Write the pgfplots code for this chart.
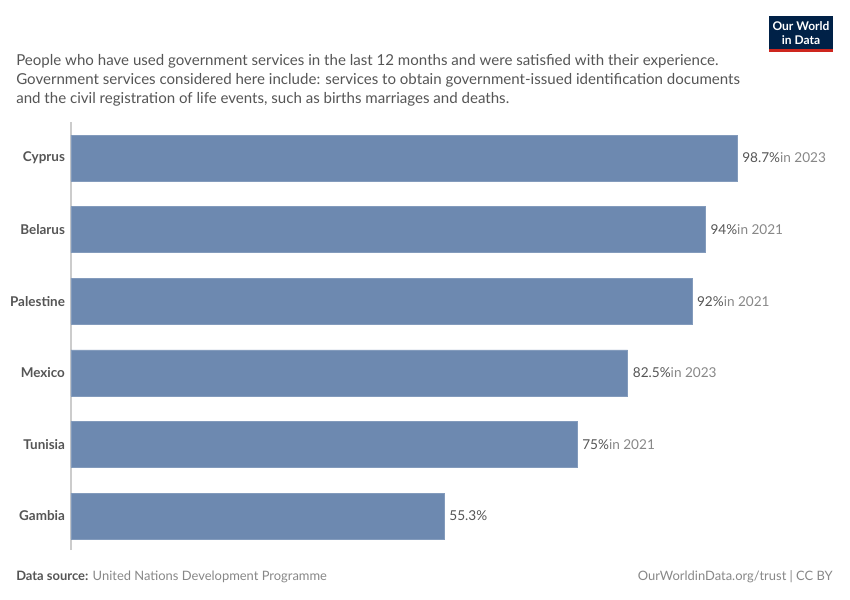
\documentclass[border=0pt]{standalone}
\usepackage{pgfplots}
\pgfplotsset{compat=1.18}
\usepackage{fontspec}
\setmainfont{Lato}
\definecolor{owid}{RGB}{109,137,176}
\definecolor{txt}{RGB}{85,85,85}
\definecolor{lgt}{RGB}{135,135,135}
\definecolor{navy}{RGB}{0,33,71}
\definecolor{owred}{RGB}{206,38,30}
\begin{document}
\begin{tikzpicture}[x=0.75pt,y=-0.75pt]
\path[use as bounding box] (0,0) rectangle (850,600);
% title
\node[anchor=north west, inner sep=0pt, align=left, text=txt, font=\fontsize{11.3pt}{14.4pt}\selectfont] at (16,54)
{People who have used government services in the last 12 months and were satisfied with their experience.\\
Government services considered here include: services to obtain government-issued identification documents\\
and the civil registration of life events, such as births marriages and deaths.};
% logo
\fill[navy] (769,16) rectangle (833,49);
\fill[owred] (769,49) rectangle (833,52);
\node[align=center, text=white, inner sep=0pt, font=\bfseries\fontsize{9pt}{10pt}\selectfont] at (801,33) {Our World\\in Data};
\begin{axis}[
  at={(53.25pt,-387pt)}, anchor=origin,
  scale only axis, width=556.7pt, height=321pt,
  xbar, bar width=34.5pt,
  xmin=0, xmax=110, ymin=-0.475, ymax=5.503,
  axis x line=none,
  axis y line*=left,
  y axis line style={draw=black!20, line width=0.8pt},
  ytick={0,1,2,3,4,5},
  yticklabels={Gambia,Tunisia,Mexico,Palestine,Belarus,Cyprus},
  yticklabel style={font=\bfseries\fontsize{10.1pt}{12pt}\selectfont, text=txt, xshift=-1pt},
  major tick length=0pt,
  clip=false,
]
\addplot[fill=owid, draw=owid!85!white] coordinates {(55.3,0) (75,1) (82.5,2) (92,3) (94,4) (98.7,5)};
\node[anchor=west, inner sep=0pt, font=\fontsize{10.2pt}{12pt}\selectfont, text=txt] at (axis cs:55.3,0) {\hspace{3.75pt}55.3\%};
\node[anchor=west, inner sep=0pt, font=\fontsize{10.2pt}{12pt}\selectfont, text=txt] at (axis cs:75,1) {\hspace{3.75pt}75\%\textcolor{lgt}{in 2021}};
\node[anchor=west, inner sep=0pt, font=\fontsize{10.2pt}{12pt}\selectfont, text=txt] at (axis cs:82.5,2) {\hspace{3.75pt}82.5\%\textcolor{lgt}{in 2023}};
\node[anchor=west, inner sep=0pt, font=\fontsize{10.2pt}{12pt}\selectfont, text=txt] at (axis cs:92,3) {\hspace{3.75pt}92\%\textcolor{lgt}{in 2021}};
\node[anchor=west, inner sep=0pt, font=\fontsize{10.2pt}{12pt}\selectfont, text=txt] at (axis cs:94,4) {\hspace{3.75pt}94\%\textcolor{lgt}{in 2021}};
\node[anchor=west, inner sep=0pt, font=\fontsize{10.2pt}{12pt}\selectfont, text=txt] at (axis cs:98.7,5) {\hspace{3.75pt}98.7\%\textcolor{lgt}{in 2023}};
\end{axis}
% footer
\node[anchor=west, inner sep=0pt, text=lgt, font=\fontsize{9.7pt}{11pt}\selectfont] at (16,577) {\textbf{\textcolor{txt}{Data source:}} United Nations Development Programme};
\node[anchor=east, inner sep=0pt, text=lgt, font=\fontsize{9.7pt}{11pt}\selectfont] at (833,577) {OurWorldinData.org/trust | CC BY};
\end{tikzpicture}
\end{document}
